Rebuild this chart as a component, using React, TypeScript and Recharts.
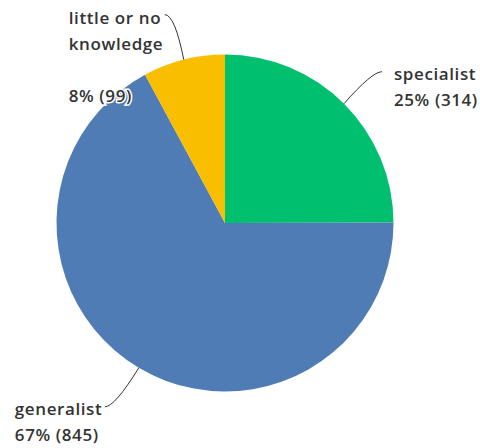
import { PieChart, Pie, Cell } from 'recharts';

const CATEGORIES = ['specialist', 'generalist', 'little or no knowledge'];
const COUNTS = [314, 845, 99];
const PERCENT_LABELS = ['25%', '67%', '8%'];
const COLORS = ['#00bf6f', '#507cb6', '#f9be00'];

// text lines per slice (blank line keeps the gap seen under "knowledge")
const LABEL_LINES = [['specialist'], ['generalist'], ['little or no', 'knowledge', '']];

// leader end offset from the slice edge, then text start relative to leader end
const LABEL_LAYOUT = [
  { dx: 38, dy: -32, tx: 12, ty: 8 },
  { dx: -34, dy: 39, tx: -90, ty: 8 },
  { dx: -19, dy: -45, tx: -96, ty: 9 },
];

const data = CATEGORIES.map((name, i) => ({
  name,
  value: COUNTS[i],
  label: `${PERCENT_LABELS[i]} (${COUNTS[i]})`,
}));

const RAD = Math.PI / 180;
const LINE_H = 26;

function renderLabel(props: any) {
  const { cx, cy, midAngle, outerRadius, index } = props;
  const layout = LABEL_LAYOUT[index];
  const sx = cx + outerRadius * Math.cos(-midAngle * RAD);
  const sy = cy + outerRadius * Math.sin(-midAngle * RAD);
  const ex = sx + layout.dx;
  const ey = sy + layout.dy;
  // curve flattens out horizontally at the end
  const dir = layout.dx > 0 ? -1 : 1;
  const qx = ex + dir * 10;
  const qy = ey;
  const lines = [...LABEL_LINES[index], data[index].label];
  const tx = ex + layout.tx;
  const ty = ey + layout.ty;
  return (
    <g>
      <path
        d={`M${sx},${sy} Q${qx},${qy} ${ex},${ey}`}
        stroke="#333"
        strokeWidth={1}
        fill="none"
      />
      <text
        x={tx}
        y={ty}
        textAnchor="start"
        fill="#333"
        fontSize={17}
        fontWeight={600}
        letterSpacing={0.6}
        fontFamily="'Open Sans', sans-serif"
        stroke="#fff"
        strokeWidth={3}
        paintOrder="stroke"
      >
        {lines.map((line, i) => (
          <tspan key={i} x={tx} dy={i === 0 ? 0 : LINE_H}>
            {line || '\u00a0'}
          </tspan>
        ))}
      </text>
    </g>
  );
}

export default function App() {
  return (
    <div style={{ position: 'absolute', left: 0, top: 0, width: 480, height: 448, background: '#fff' }}>
      <PieChart width={480} height={448} margin={{ top: 0, right: 0, bottom: 0, left: 0 }}>
        <Pie
          data={data}
          dataKey="value"
          nameKey="name"
          cx={225}
          cy={223}
          outerRadius={168.5}
          startAngle={90}
          endAngle={-270}
          stroke="none"
          label={renderLabel}
          labelLine={false}
          isAnimationActive={false}
        >
          {data.map((_, i) => (
            <Cell key={`cell-${i}`} fill={COLORS[i]} />
          ))}
        </Pie>
      </PieChart>
    </div>
  );
}
